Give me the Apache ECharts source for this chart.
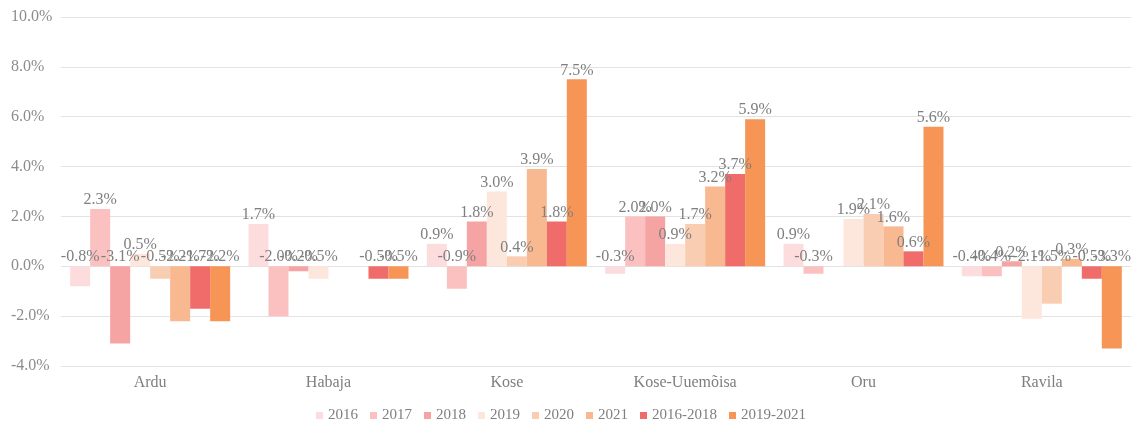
<!DOCTYPE html>
<html>
<head>
<meta charset="utf-8">
<script src="https://cdn.jsdelivr.net/npm/echarts@6/dist/echarts.min.js"></script>
<style>
html, body { margin: 0; padding: 0; background: #fff; }
#chart { width: 1137px; height: 425px; }
</style>
</head>
<body>
<div id="chart"></div>
<script>
// kategooriad ja seeriad (protsendid)
const categories = ['Ardu', 'Habaja', 'Kose', 'Kose-Uuemõisa', 'Oru', 'Ravila']
const seriesNames = ['2016', '2017', '2018', '2019', '2020', '2021', '2016-2018', '2019-2021']
const v2016 = [-0.8, 1.7, 0.9, -0.3, 0.9, -0.4]
const v2017 = [2.3, -2.0, -0.9, 2.0, -0.3, -0.4]
const v2018 = [-3.1, -0.2, 1.8, 2.0, null, 0.2]
const v2019 = [0.5, -0.5, 3.0, 0.9, 1.9, -2.1]
const v2020 = [-0.5, null, 0.4, 1.7, 2.1, -1.5]
const v2021 = [-2.2, null, 3.9, 3.2, 1.6, 0.3]
const v2016_2018 = [-1.7, -0.5, 1.8, 3.7, 0.6, -0.5]
const v2019_2021 = [-2.2, -0.5, 7.5, 5.9, 5.6, -3.3]
const yTicks = [-4, -2, 0, 2, 4, 6, 8, 10]

const colors = ['#fcdcdc', '#fbc1c1', '#f5a3a3', '#fde6dc', '#f9cdb2', '#f8b890', '#f06c6b', '#f69556']
const values = [v2016, v2017, v2018, v2019, v2020, v2021, v2016_2018, v2019_2021]
const font = '"Liberation Serif", "DejaVu Serif", serif'

const chart = echarts.init(document.getElementById('chart'))
chart.setOption({
    animation: false,
    color: colors,
    textStyle: { fontFamily: font },
    grid: { left: 61, right: 6, top: 17, bottom: 59 },
    legend: {
        top: 403,
        left: 311,
        itemWidth: 7,
        itemHeight: 7,
        itemGap: 12,
        icon: 'rect',
        textStyle: { color: '#7f7f7f', fontSize: 15, fontFamily: font },
        data: seriesNames
    },
    xAxis: {
        type: 'category',
        data: categories,
        axisLine: { show: false },
        axisTick: { show: false },
        axisLabel: { color: '#7f7f7f', fontSize: 16, margin: 9, fontFamily: font }
    },
    yAxis: {
        type: 'value',
        min: yTicks[0],
        max: yTicks[yTicks.length - 1],
        interval: 2,
        axisLine: { show: false },
        axisTick: { show: false },
        splitLine: { lineStyle: { color: '#e3e3e3', width: 1 } },
        axisLabel: {
            color: '#8c8c8c',
            fontSize: 16,
            align: 'left',
            margin: 50,
            fontFamily: font,
            formatter: v => v.toFixed(1) + '%'
        }
    },
    series: seriesNames.map((name, i) => ({
        name: name,
        type: 'bar',
        data: values[i],
        barGap: '0%',
        barCategoryGap: '10.3%',
        label: {
            show: true,
            position: 'top',
            distance: 1,
            color: '#7f7f7f',
            fontSize: 16,
            fontFamily: font,
            formatter: p => p.value.toFixed(1) + '%'
        }
    }))
})
</script>
</body>
</html>
